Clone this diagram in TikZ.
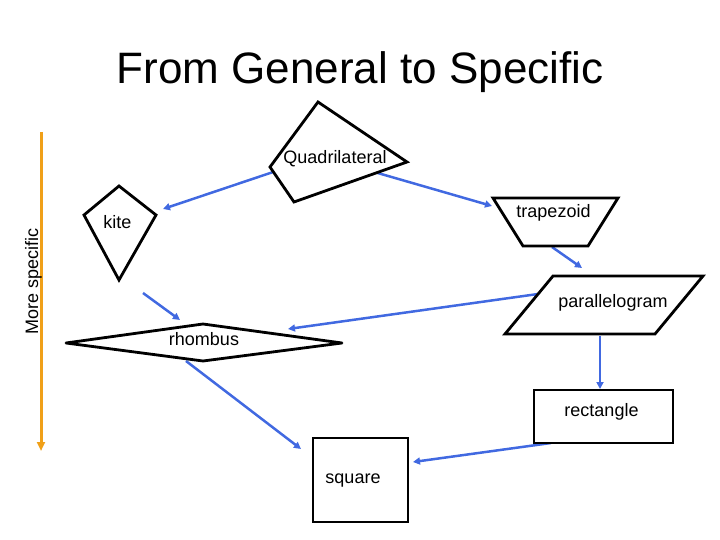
\documentclass[tikz,border=0pt]{standalone}
\usepackage{fontspec}
\setmainfont{Liberation Sans}
\usetikzlibrary{arrows.meta}
\definecolor{conblue}{RGB}{65,105,225}
\definecolor{axorange}{RGB}{240,160,24}
\tikzset{
  shapeline/.style={draw=black, line width=2.8bp, fill=white, line join=miter},
  lbl/.style={font=\fontsize{18bp}{21bp}\selectfont, anchor=base, inner sep=0pt},
  conn/.style={draw=conblue, line width=2.5bp, -{Triangle[length=7bp,width=7bp]}},
  axisarrow/.style={draw=axorange, line width=3bp, -{Triangle[length=9bp,width=8bp]}},
}
\begin{document}
\begin{tikzpicture}[x=1bp,y=-1bp]
\useasboundingbox (0,0) rectangle (720,540);

% title
\node[font=\fontsize{44bp}{50bp}\selectfont, anchor=base, inner sep=0pt] (title) at (360,84) {From General to Specific};

% axis
\coordinate (ax-top) at (41,132);
\coordinate (ax-bot) at (41,451);
\draw[axisarrow] (ax-top) -- (ax-bot);
\node[lbl, rotate=90] (axlabel) at (38,281) {More specific};

% connector end points
\coordinate (quad-w) at (300,163);
\coordinate (kite-in) at (163,209);
\coordinate (quad-e) at (350,165);
\coordinate (trap-in) at (492,206);
\coordinate (trap-out) at (552,247);
\coordinate (para-in) at (582,268);
\coordinate (para-w) at (538,294);
\coordinate (rho-in) at (288,329);
\coordinate (kite-out) at (143,293);
\coordinate (rho-top) at (180,320);
\coordinate (para-s) at (600,336);
\coordinate (rect-in) at (600,389);
\coordinate (rho-s) at (186,361);
\coordinate (sq-in) at (301,449);
\coordinate (rect-sw) at (551,443);
\coordinate (sq-e) at (413,462);

% connectors
\draw[conn] (quad-w) -- (kite-in);
\draw[conn] (quad-e) -- (trap-in);
\draw[conn] (trap-out) -- (para-in);
\draw[conn] (para-w) -- (rho-in);
\draw[conn] (kite-out) -- (rho-top);
\draw[conn] (para-s) -- (rect-in);
\draw[conn] (rho-s) -- (sq-in);
\draw[conn] (rect-sw) -- (sq-e);

% shapes
\draw[shapeline] (318,102) -- (407,162) -- (294,202) -- (270,167) -- cycle;
\draw[shapeline] (119,186) -- (156,215) -- (119,280) -- (84,215) -- cycle;
\draw[shapeline] (493,198) -- (618,198) -- (588,246) -- (523,246) -- cycle;
\draw[shapeline] (553,276) -- (703,276) -- (655,334) -- (505,334) -- cycle;
\draw[shapeline, line join=round] (66,343) -- (203,324) -- (342,343) -- (203,361) -- cycle;
\draw[shapeline] (534,390) rectangle (673,443);
\draw[shapeline] (313,438) rectangle (408,522);

% labels
\node[lbl] (quad) at (335,164) {Quadrilateral};
\node[lbl] (kite) at (117.5,229) {kite};
\node[lbl] (trap) at (553.5,218) {trapezoid};
\node[lbl] (para) at (613,307) {parallelogram};
\node[lbl] (rho) at (204,345) {rhombus};
\node[lbl] (rect) at (601.5,416) {rectangle};
\node[lbl] (sq) at (353,483) {square};
\end{tikzpicture}
\end{document}
